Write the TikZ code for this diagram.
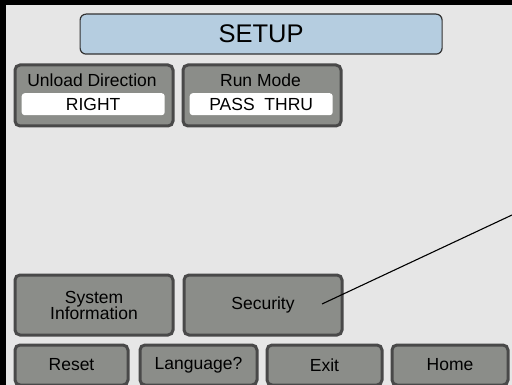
\documentclass[tikz,border=0pt]{standalone}
\usepackage{fontspec}
\setmainfont{Liberation Sans}
\definecolor{bg}{HTML}{E6E6E6}
\definecolor{btnfill}{HTML}{8B8D89}
\definecolor{bord}{HTML}{494949}
\definecolor{titlefill}{HTML}{B5CDE0}
\tikzset{
  btn/.style={draw=bord, line width=3pt, fill=btnfill, rounded corners=5pt, anchor=north west, inner sep=0pt, align=center, font=\fontsize{17.5}{18}\selectfont},
  field/.style={fill=white, rounded corners=3pt, anchor=north west, inner sep=0pt},
  lbl/.style={inner sep=0pt, font=\fontsize{17.5}{18}\selectfont},
}
\begin{document}
\begin{tikzpicture}[x=1pt,y=-1pt]
\useasboundingbox (0,0) rectangle (512,385);
\fill[bg] (0,0) rectangle (512,385);
\fill[black] (0,0) rectangle (6,385);
\fill[black] (0,0) rectangle (512,5);
% title
\node[draw=black!80, line width=1.2pt, fill=titlefill, rounded corners=6pt, anchor=north west, minimum width=362pt, minimum height=40pt, inner sep=0pt, font=\fontsize{25.5}{27}\selectfont] (title) at (79.5,13.5) {SETUP};
% top buttons
\node[btn, minimum width=158pt, minimum height=61pt] (unload) at (13.5,63.5) {};
\node[lbl] (unloadl) at (92,80) {Unload Direction};
\node[field, minimum width=143pt, minimum height=22pt] (unloadf) at (21.5,93) {};
\node[lbl] (unloadv) at (unloadf.center) {RIGHT};
\node[btn, minimum width=158pt, minimum height=61pt] (run) at (181.5,63.5) {};
\node[lbl] (runl) at (260.5,80) {Run Mode};
\node[field, minimum width=143pt, minimum height=22pt] (runf) at (189.5,93) {};
\node[lbl] (runv) at (runf.center) {PASS\ \ THRU};
% middle buttons
\node[btn, minimum width=158pt, minimum height=60pt] (sys) at (13.5,273.5) {System\\[-2pt]Information};
\node[btn, minimum width=158pt, minimum height=60pt] (sec) at (182.5,273.5) {Security};
% bottom row
\node[btn, minimum width=113pt, minimum height=40pt] (reset) at (13.5,343.5) {Reset};
\node[btn, minimum width=117pt, minimum height=40pt] (lang) at (138.5,343.5) {Language?};
\node[btn, minimum width=115pt, minimum height=40pt] (exit) at (265.5,343.5) {Exit};
\node[btn, minimum width=116pt, minimum height=40pt] (home) at (390.5,343.5) {Home};
% callout line
\coordinate (p) at (322,304);
\coordinate (q) at (512,215);
\draw[black, line width=1.1pt] (p) -- (q);
\end{tikzpicture}
\end{document}
